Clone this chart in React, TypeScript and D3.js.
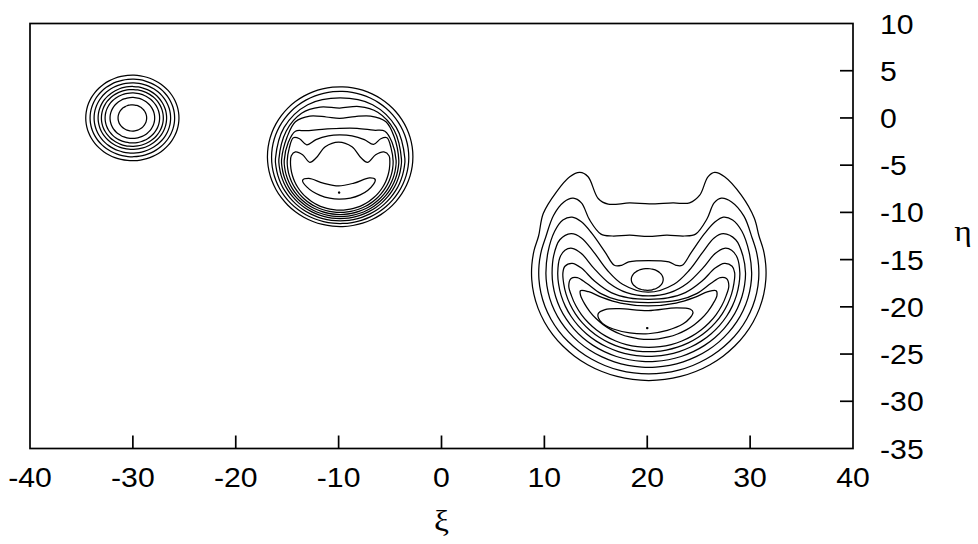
import { useEffect, useRef } from 'react';
import * as d3 from 'd3';

type Pt = [number, number];
type Ring = { c?: Pt; r?: Pt; a?: Pt; top?: Pt[] };

const xTicks = [-40, -30, -20, -10, 0, 10, 20, 30, 40];
const yTicks = [10, 5, 0, -5, -10, -15, -20, -25, -30, -35];

// packet at xi = -30: plain concentric contours
const centreA: Pt = [-30.05, 0];
const radiiA = [4.53, 4.11, 3.72, 3.33, 3.01, 2.65, 2.17, 1.39];

// packet at xi = -10: lower arc (centre, radii, degrees) + upper profile
const ringsB: Ring[] = [
  { c: [-9.85, -4.1], r: [7.07, 7.4] },
  { c: [-9.85, -4.18], r: [6.67, 7.0] },
  { c: [-9.85, -4.3], r: [6.29, 6.6], a: [0, -180], top: [[-15.3, -1.0], [-13.0, 1.4], [-9.85, 2.12], [-6.7, 1.4], [-4.4, -1.0]] },
  { c: [-9.85, -4.39], r: [5.96, 6.26], a: [0, -180], top: [[-15.1, -1.4], [-13.6, 0.5], [-11.8, 1.15], [-9.9, 1.05], [-8.0, 1.2], [-6.2, 0.6], [-4.6, -1.3]] },
  { c: [-9.85, -4.45], r: [5.7, 5.99], a: [0, -180], top: [[-15.0, -2.0], [-14.2, -0.4], [-12.8, 0.2], [-11.2, 0.1], [-9.9, -0.05], [-8.4, 0.15], [-6.9, 0.2], [-5.4, -0.4], [-4.6, -2.0]] },
  { c: [-9.85, -4.52], r: [5.44, 5.71], a: [0, -180], top: [[-14.9, -2.6], [-14.2, -1.4], [-13.2, -1.35], [-11.6, -1.2], [-9.9, -1.1], [-8.2, -1.1], [-6.6, -1.3], [-5.5, -1.4], [-4.8, -2.6]] },
  { c: [-9.85, -4.6], r: [5.15, 5.41], a: [0, -180], top: [[-14.8, -3.2], [-14.4, -2.1], [-13.8, -2.2], [-13.1, -2.85], [-12.2, -2.3], [-11.0, -1.9], [-9.9, -1.8], [-8.7, -1.9], [-7.5, -2.3], [-6.6, -2.8], [-5.9, -2.2], [-5.3, -2.1], [-4.9, -3.2]] },
  { c: [-9.85, -4.7], r: [4.83, 5.07], a: [0, -180], top: [[-14.6, -4.0], [-14.2, -3.6], [-13.5, -3.9], [-12.8, -4.7], [-12.2, -4.25], [-11.3, -3.05], [-10.0, -2.55], [-8.7, -3.05], [-7.8, -4.25], [-7.2, -4.7], [-6.4, -3.9], [-5.6, -3.6], [-5.1, -4.0]] },
  { top: [[-13.5, -6.6], [-12.9, -6.4], [-11.5, -6.9], [-10.0, -7.2], [-8.5, -6.9], [-7.0, -6.35], [-6.45, -6.5], [-6.6, -7.0], [-7.9, -8.15], [-9.95, -8.6], [-11.8, -8.2], [-13.1, -7.3]] },
  { c: [-9.95, -7.9], r: [0.06, 0.06] },
];

// packet at xi = 20
const ringsC: Ring[] = [
  { c: [20.15, -16.4], r: [11.4, 11.4], a: [20, -200], top: [[9.89, -10.12], [11.18, -7.82], [12.47, -6.23], [13.45, -5.77], [14.25, -6.23], [15.23, -8.53], [16.2, -9.13], [18.3, -9.0], [20.2, -9.1], [22.5, -9.0], [24.12, -8.99], [25.1, -8.18], [25.9, -6.23], [26.55, -5.77], [27.52, -6.23], [29.14, -8.18], [30.4, -10.6]] },
  { c: [20.15, -16.4], r: [10.7, 10.7], a: [20, -200], top: [[10.9, -10.3], [11.9, -8.9], [12.8, -8.5], [13.6, -9.0], [14.4, -10.8], [15.5, -12.3], [16.6, -12.5], [18.3, -12.4], [20.1, -12.55], [21.9, -12.4], [23.6, -12.5], [24.7, -12.3], [25.8, -10.7], [26.5, -9.0], [27.2, -8.5], [28.2, -8.9], [29.4, -10.4]] },
  { c: [20.15, -16.4], r: [10.0, 10.0], a: [0, -180], top: [[10.35, -14.2], [11.0, -12.0], [11.8, -10.8], [12.7, -10.5], [13.6, -11.0], [14.6, -12.2], [15.9, -14.2], [16.8, -15.6], [17.5, -15.6], [18.2, -15.25], [20.1, -15.1], [22.1, -15.25], [22.8, -15.6], [23.4, -15.6], [24.3, -14.2], [25.6, -12.2], [26.6, -11.0], [27.4, -10.5], [28.3, -10.8], [29.2, -12.0], [29.9, -14.2]] },
  { c: [20.0, -17.1], r: [1.55, 1.15] },
  { c: [20.15, -16.4], r: [9.4, 9.4], a: [0, -180], top: [[10.9, -14.6], [11.5, -12.9], [12.6, -12.25], [13.6, -12.7], [14.8, -14.2], [16.1, -16.1], [17.6, -17.6], [20.1, -18.45], [22.6, -17.6], [24.1, -16.1], [25.4, -14.2], [26.5, -12.7], [27.4, -12.25], [28.6, -12.9], [29.3, -14.6]] },
  { c: [20.15, -16.4], r: [8.85, 8.85], a: [0, -180], top: [[11.5, -14.8], [12.0, -14.0], [12.7, -13.8], [13.6, -14.35], [14.8, -15.9], [16.3, -17.5], [18.0, -18.5], [20.1, -18.85], [22.2, -18.5], [23.9, -17.5], [25.4, -15.9], [26.6, -14.35], [27.5, -13.8], [28.2, -14.0], [28.75, -14.8]] },
  { c: [20.15, -16.4], r: [8.35, 8.35], a: [0, -180], top: [[12.0, -15.7], [12.7, -15.4], [13.6, -15.9], [14.9, -17.3], [16.5, -18.5], [18.2, -19.05], [20.1, -19.2], [22.0, -19.05], [23.7, -18.5], [25.3, -17.3], [26.6, -15.9], [27.5, -15.4], [28.25, -15.7]] },
  { c: [20.15, -16.4], r: [7.9, 7.9], a: [-10, -170], top: [[12.6, -17.0], [13.2, -16.9], [14.1, -17.5], [15.5, -18.6], [17.2, -19.3], [20.1, -19.55], [23.0, -19.3], [24.8, -18.6], [26.2, -17.5], [27.1, -16.9], [27.7, -17.0]] },
  { c: [20.15, -16.4], r: [7.05, 7.05], a: [-20, -160], top: [[13.5, -18.3], [14.3, -18.4], [15.6, -19.0], [17.4, -19.6], [20.1, -19.9], [22.8, -19.6], [24.6, -19.0], [25.9, -18.4], [26.7, -18.3]] },
  { top: [[15.23, -20.74], [15.9, -20.3], [17.3, -20.2], [20.1, -20.4], [22.8, -20.1], [24.2, -20.25], [24.45, -20.6], [23.5, -21.8], [20.1, -22.85], [16.7, -22.35], [15.4, -21.45]] },
  { c: [20.0, -22.25], r: [0.06, 0.06] },
];

const ringPoints = (ring: Ring): Pt[] => {
  const pts: Pt[] = [];
  if (ring.c && ring.r) {
    const [cx, cy] = ring.c;
    const [rx, ry] = ring.r;
    const full = !ring.a;
    const [a0, a1] = ring.a ?? [0, -360];
    const n = Math.max(4, Math.ceil(Math.abs(a1 - a0) / 8));
    for (let i = 0; i < (full ? n : n + 1); i++) {
      const t = ((a0 + ((a1 - a0) * i) / n) * Math.PI) / 180;
      pts.push([cx + rx * Math.cos(t), cy + ry * Math.sin(t)]);
    }
  }
  return pts.concat(ring.top ?? []);
};

const App = () => {
  const ref = useRef<SVGSVGElement>(null);

  useEffect(() => {
    const width = 978;
    const height = 544;
    const svg = d3.select(ref.current);
    svg.selectAll('*').remove();

    const x = d3.scaleLinear().domain([-40, 40]).range([30, 853]);
    const y = d3.scaleLinear().domain([10, -35]).range([23.5, 448.5]);

    svg.attr('width', width).attr('height', height);
    svg.append('rect').attr('width', width).attr('height', height).attr('fill', '#fff');

    const line = d3.line<Pt>()
      .x(d => x(d[0]))
      .y(d => y(d[1]))
      .curve(d3.curveCatmullRomClosed.alpha(0.5));

    const ringsA: Ring[] = radiiA.map(r => ({ c: centreA, r: [r, r] as Pt }));
    const all = [...ringsA, ...ringsB, ...ringsC];

    svg.append('g')
      .selectAll('path')
      .data(all)
      .enter().append('path')
      .attr('d', d => line(ringPoints(d)))
      .attr('fill', 'none')
      .attr('stroke', '#000')
      .attr('stroke-width', 1.25);

    // frame
    svg.append('rect')
      .attr('x', x(-40)).attr('y', y(10))
      .attr('width', x(40) - x(-40)).attr('height', y(-35) - y(10))
      .attr('fill', 'none').attr('stroke', '#000').attr('stroke-width', 1.7);

    const font = 'Liberation Sans, Arial, sans-serif';

    svg.append('g').selectAll('line')
      .data(xTicks.slice(1, -1))
      .enter().append('line')
      .attr('x1', d => x(d)).attr('x2', d => x(d))
      .attr('y1', y(-35)).attr('y2', y(-35) - 13)
      .attr('stroke', '#000').attr('stroke-width', 1.7);

    svg.append('g').selectAll('text')
      .data(xTicks)
      .enter().append('text')
      .attr('transform', d => `translate(${x(d)},487) scale(1.12,1)`)
      .attr('text-anchor', 'middle')
      .style('font-family', font).style('font-size', '27px')
      .text(d => d);

    svg.append('g').selectAll('line')
      .data(yTicks.slice(1, -1))
      .enter().append('line')
      .attr('x1', x(40)).attr('x2', x(40) - 13)
      .attr('y1', d => y(d)).attr('y2', d => y(d))
      .attr('stroke', '#000').attr('stroke-width', 1.7);

    svg.append('g').selectAll('text')
      .data(yTicks)
      .enter().append('text')
      .attr('transform', d => `translate(880,${y(d) + 10}) scale(1.12,1)`)
      .attr('text-anchor', 'start')
      .style('font-family', font).style('font-size', '27px')
      .text(d => d);

    svg.append('text')
      .attr('transform', `translate(${x(0)},531) scale(1.12,1)`)
      .attr('text-anchor', 'middle')
      .style('font-family', 'Liberation Serif, serif').style('font-size', '30px')
      .text('ξ');

    svg.append('text')
      .attr('transform', `translate(963,241) scale(1.12,1)`)
      .attr('text-anchor', 'middle')
      .style('font-family', 'Liberation Serif, serif').style('font-size', '30px')
      .text('η');
  }, []);

  return <svg ref={ref} style={{ position: 'absolute', left: 0, top: 0, display: 'block' }} />;
};

export default App;
